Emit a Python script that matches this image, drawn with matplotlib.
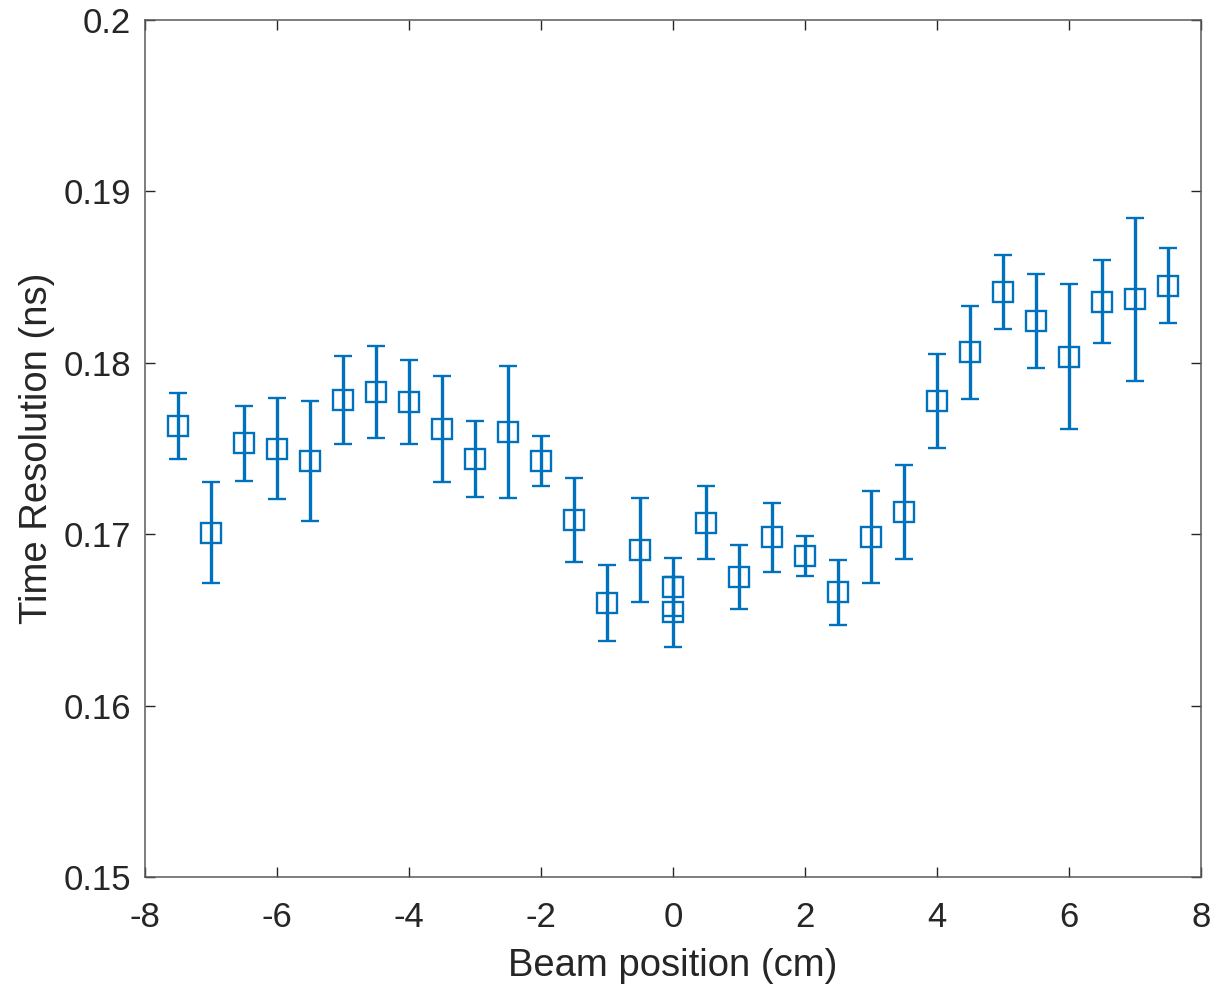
import matplotlib.pyplot as plt
import numpy as np

# Beam scan data
beam_pos = [-7.5, -7.0, -6.5, -6.0, -5.5, -5.0, -4.5, -4.0, -3.5, -3.0, -2.5, -2.0,
            -1.5, -1.0, -0.5, 0.0, 0.0, 0.5, 1.0, 1.5, 2.0, 2.5, 3.0, 3.5,
            4.0, 4.5, 5.0, 5.5, 6.0, 6.5, 7.0, 7.5]
time_res = [0.17633, 0.17009, 0.17530, 0.17499, 0.17429, 0.17783, 0.17831, 0.17773,
            0.17612, 0.17439, 0.17598, 0.17427, 0.17083, 0.16600, 0.16908, 0.16692,
            0.16546, 0.17067, 0.16749, 0.16982, 0.16875, 0.16661, 0.16982, 0.17128,
            0.17777, 0.18061, 0.18411, 0.18244, 0.18036, 0.18357, 0.18370, 0.18450]
time_err = [0.00193, 0.00294, 0.00220, 0.00295, 0.00351, 0.00254, 0.00268, 0.00245,
            0.00310, 0.00220, 0.00384, 0.00146, 0.00245, 0.00223, 0.00305, 0.00169,
            0.00204, 0.00212, 0.00187, 0.00200, 0.00116, 0.00190, 0.00268, 0.00273,
            0.00275, 0.00270, 0.00216, 0.00276, 0.00422, 0.00244, 0.00475, 0.00218]

x_ticks = np.arange(-8, 9, 2)
y_ticks = [0.15, 0.16, 0.17, 0.18, 0.19, 0.2]
y_tick_labels = ["0.15", "0.16", "0.17", "0.18", "0.19", "0.2"]

plt.rcParams['font.family'] = ['Liberation Sans', 'DejaVu Sans']
plt.rcParams['axes.unicode_minus'] = False

blue = "#0072BD"
axis_col = "#262626"

fig = plt.figure(figsize=(12.12, 9.84), dpi=100)
ax = fig.add_axes([0.1196, 0.1087, 0.8713, 0.871])

ax.errorbar(beam_pos, time_res, yerr=time_err, fmt='s', color=blue,
            markerfacecolor='none', markeredgecolor=blue, markersize=14,
            markeredgewidth=1.7, elinewidth=2.4, capsize=6.5, capthick=2.8)

ax.set_xlim(-8, 8)
ax.set_ylim(0.15, 0.2)
ax.set_xticks(x_ticks)
ax.set_yticks(y_ticks)
ax.set_yticklabels(y_tick_labels)

ax.tick_params(direction='in', length=7, width=1.0, colors=axis_col,
               labelsize=25, top=True, right=True)
ax.tick_params(axis='x', pad=17)
ax.tick_params(axis='y', pad=10)
for sp in ax.spines.values():
    sp.set_color('#5a5a5a')
    sp.set_linewidth(1.1)

ax.set_xlabel("Beam position (cm)", fontsize=27.5, color=axis_col, labelpad=10)
ax.set_ylabel("Time Resolution (ns)", fontsize=27.5, color=axis_col, labelpad=6)

fig.savefig("out.png", dpi=100)
